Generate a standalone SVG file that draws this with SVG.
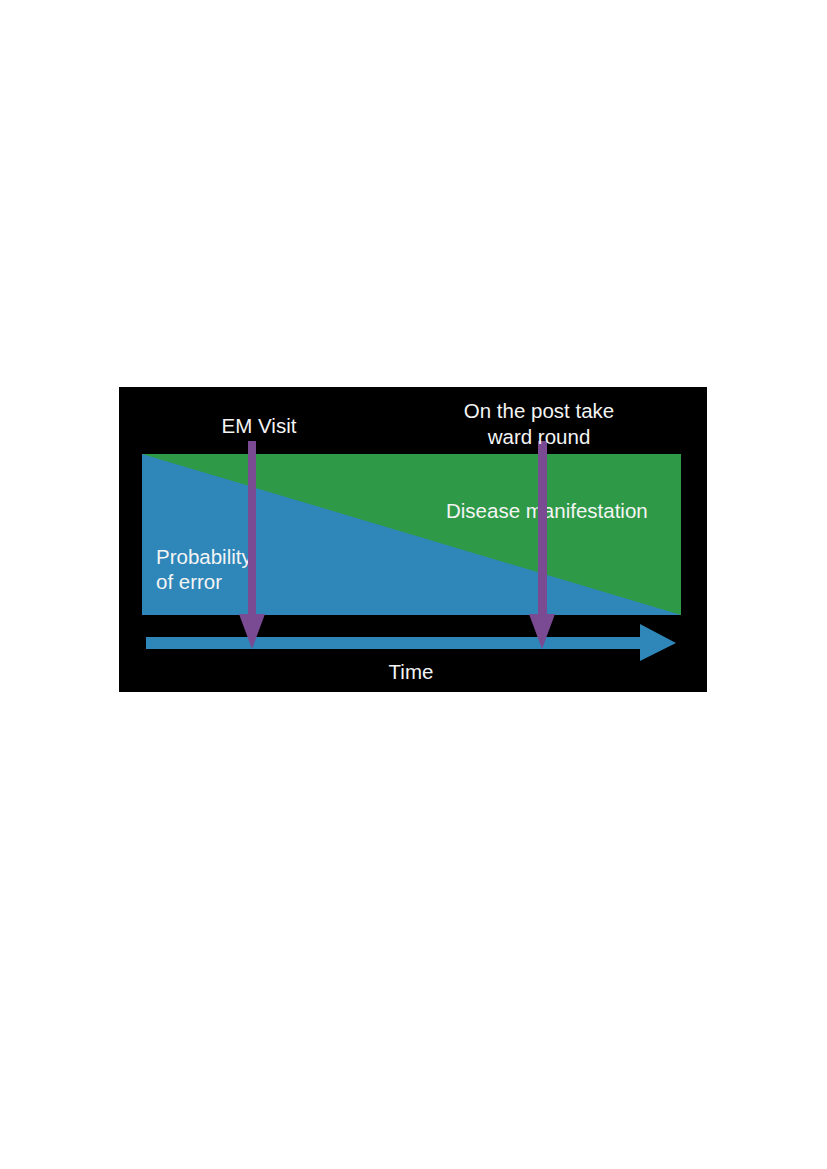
<svg xmlns="http://www.w3.org/2000/svg" width="827" height="1169" viewBox="0 0 827 1169">
<style>
.t{font-family:"Liberation Sans",Arial,sans-serif;font-size:20.5px;fill:#f4f4f4}
.purple{fill:#7a4a93}
.blue{fill:#2e86b9}
</style>
<rect width="827" height="1169" fill="#ffffff"/>
<rect x="119" y="387" width="588" height="305" fill="#000000"/>
<g id="chart">
<rect x="142" y="454" width="539" height="161" fill="#2e9a47"/>
<polygon points="142,454 681,615 142,615" class="blue"/>
</g>
<g id="labels-bg">
<text class="t" x="156" y="564">Probability</text>
<text class="t" x="156" y="589">of error</text>
<text class="t" x="446" y="518">Disease manifestation</text>
</g>
<g id="connectors">
<polygon id="time-arrow" class="blue" points="146,637 640,637 640,624 676,643 640,661 640,649 146,649"/>
<polygon id="em-arrow" class="purple" points="248,441 256,441 256,614 265,614 252,649 239,614 248,614"/>
<polygon id="ward-arrow" class="purple" points="538,441 547,441 547,614 555,614 542,649 529,614 538,614"/>
</g>
<g id="em-visit"><text class="t" x="259" y="433" text-anchor="middle">EM Visit</text></g>
<g id="ward-round">
<text class="t" x="539" y="418" text-anchor="middle">On the post take</text>
<text class="t" x="539" y="444" text-anchor="middle">ward round</text>
</g>
<g id="time"><text class="t" x="411" y="679" text-anchor="middle">Time</text></g>
</svg>
